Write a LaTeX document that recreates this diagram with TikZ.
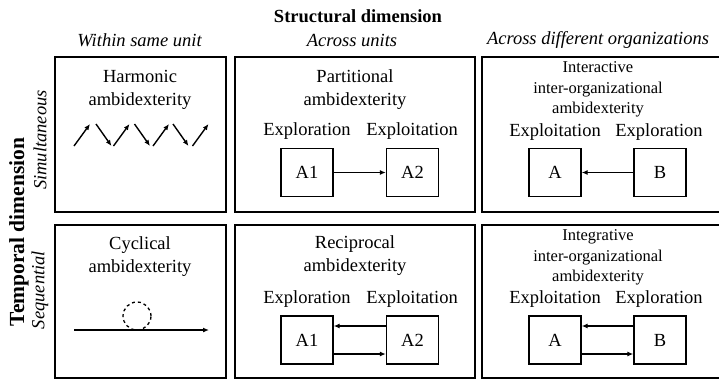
\documentclass[tikz,border=0pt]{standalone}
\usepackage{fontspec}
\setmainfont{Liberation Serif}
\usetikzlibrary{arrows.meta}

\begin{document}
\begin{tikzpicture}[x=1pt,y=-1pt,panel/.style={draw,line width=2.4pt},unit/.style={draw,line width=1.4pt,minimum width=52pt,minimum height=48pt,inner sep=0pt,font=\fontsize{18.5}{22}\selectfont},txt/.style={align=center,inner sep=0pt,font=\fontsize{18.5}{23}\selectfont},small/.style={align=center,inner sep=0pt,font=\fontsize{16.5}{20.5}\selectfont},hdr/.style={inner sep=0pt,font=\fontsize{18.5}{22}\selectfont\itshape},link/.style={line width=1.4pt,-{Latex[length=6pt,width=5pt]}}]
  \useasboundingbox (0,0) rectangle (719,378);
\node(title)[inner sep=0pt,font=\fontsize{18.5}{22}\selectfont\bfseries] at (358,16) {Structural dimension};
\node(within)[hdr] at (139.5,40) {Within same unit};
\node(across)[hdr] at (352,40) {Across units};
\node(orgs)[hdr] at (598,40) {Across different organizations};
\node(temporal)[rotate=90,inner sep=0pt,font=\fontsize{21.5}{24}\selectfont\bfseries] at (19,232) {Temporal dimension};
\node(simul)[rotate=90,hdr] at (40,140) {Simultaneous};
\node(seq)[rotate=90,hdr] at (40,290) {Sequential};
\draw[panel] (55,57) rectangle (226,212);
\draw[panel] (235,57) rectangle (475,212);
\draw[panel] (482,57) rectangle (721,212);
\draw[panel] (55,225) rectangle (226,378);
\draw[panel] (235,225) rectangle (475,378);
\draw[panel] (482,225) rectangle (721,378);
\node(harmonic)[txt] at (140,90) {Harmonic\\ambidexterity};
\foreach \i in {0,...,3}
  \draw[link] (74+39.5*\i,146) -- ++(16,-22);
\foreach \i in {0,...,2}
  \draw[link] (96+38.5*\i,124) -- ++(15.5,22);
\node(partitional)[txt] at (355,90) {Partitional\\ambidexterity};
\node[txt] at (307,131) {Exploration};
\node[txt] at (412,131) {Exploitation};
\node(A1)[unit] at (307,172.5) {A1};
\node(A2)[unit] at (412.5,172.5) {A2};
\draw[link] (A1) -- (A2);
\node(interactive)[small] at (598,89.5) {Interactive\\inter-organizational\\ambidexterity};
\node[txt] at (555,132) {Exploitation};
\node[txt] at (659,132) {Exploration};
\node(A)[unit] at (555,172.5) {A};
\node(B)[unit] at (660,172.5) {B};
\draw[link] (B) -- (A);
\node(cyclical)[txt] at (140,257) {Cyclical\\ambidexterity};
\node(loop)[circle,draw,dashed,line width=1.3pt,minimum size=28pt,inner sep=0pt] at (137,316) {};
\coordinate (t0) at (74,330);
\coordinate (t1) at (209,330);
\draw[link] (t0) -- (t1);
\node(reciprocal)[txt] at (355,255.5) {Reciprocal\\ambidexterity};
\node[txt] at (307,299) {Exploration};
\node[txt] at (412,299) {Exploitation};
\node(B1)[unit] at (307,340) {A1};
\node(B2)[unit] at (412.5,340) {A2};
\draw[link] ([yshift=14pt]B2.west) -- ([yshift=14pt]B1.east);
\draw[link] ([yshift=-14pt]B1.east) -- ([yshift=-14pt]B2.west);
\node(integrative)[small] at (598,257.5) {Integrative\\inter-organizational\\ambidexterity};
\node[txt] at (555,299) {Exploitation};
\node[txt] at (659,299) {Exploration};
\node(C)[unit] at (555,340) {A};
\node(D)[unit] at (660,340) {B};
\draw[link] ([yshift=14pt]D.west) -- ([yshift=14pt]C.east);
\draw[link] ([yshift=-14pt]C.east) -- ([yshift=-14pt]D.west);
\end{tikzpicture}
\end{document}
